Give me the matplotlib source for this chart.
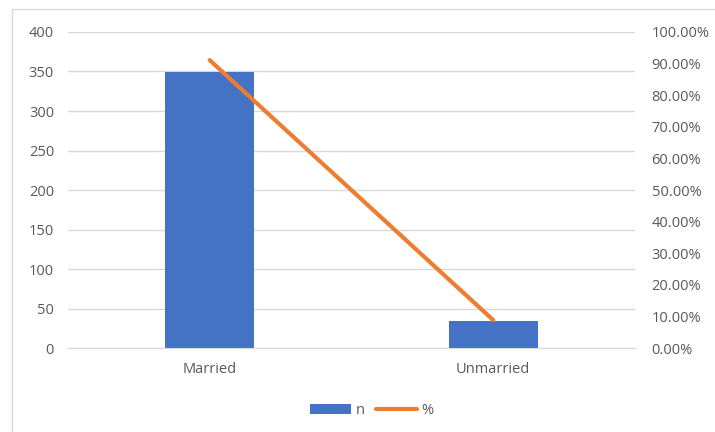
import matplotlib.pyplot as plt
from matplotlib.patches import Rectangle
from matplotlib.ticker import FuncFormatter

categories = ["Married", "Unmarried"]
n_values = [349, 34]
pct_values = [91.1, 8.9]

blue = "#4472C4"
orange = "#ED7D31"
grid_col = "#D9D9D9"
text_col = "#595959"

plt.rcParams['font.family'] = ['Open Sans', 'DejaVu Sans']

fig = plt.figure(figsize=(7.15, 4.32), dpi=100)
ax = fig.add_axes([0.095, 0.194, 0.793, 0.732])

x = list(range(len(categories)))
ax.bar(x, n_values, width=0.315, color=blue, zorder=2, label="n")
ax.set_xlim(-0.5, 1.5)
ax.set_ylim(0, 400)
ax.set_yticks(range(0, 401, 50))
ax.set_xticks(x)
ax.set_xticklabels(categories)
ax.grid(axis='y', color=grid_col, linewidth=1, zorder=0)
for s in ax.spines.values():
    s.set_visible(False)
ax.spines['bottom'].set_visible(True)
ax.spines['bottom'].set_color(grid_col)
ax.tick_params(length=0, labelsize=10.5, colors=text_col)
ax.tick_params(axis='y', pad=10)
ax.tick_params(axis='x', pad=10)

ax2 = ax.twinx()
ax2.plot(x, pct_values, color=orange, linewidth=3, solid_capstyle='round', zorder=3, label="%")
ax2.set_ylim(0, 100)
ax2.set_yticks(range(0, 101, 10))
ax2.yaxis.set_major_formatter(FuncFormatter(lambda v, p: f"{v:.2f}%"))
for s in ax2.spines.values():
    s.set_visible(False)
ax2.tick_params(length=0, labelsize=10.5, colors=text_col, pad=12)

h1, l1 = ax.get_legend_handles_labels()
h2, l2 = ax2.get_legend_handles_labels()
fig.legend(h1 + h2, l1 + l2, loc='center', bbox_to_anchor=(0.52, 0.05), ncol=2,
           frameon=False, fontsize=10.5, labelcolor=text_col, handlelength=2.8,
           handletextpad=0.3, columnspacing=0.8)

fig.patches.append(Rectangle((12 / 715, -0.01), 1.0, 1 - 9 / 432 + 0.01, transform=fig.transFigure,
                             fill=False, edgecolor=grid_col, linewidth=1))

fig.savefig("out.png", dpi=100)
